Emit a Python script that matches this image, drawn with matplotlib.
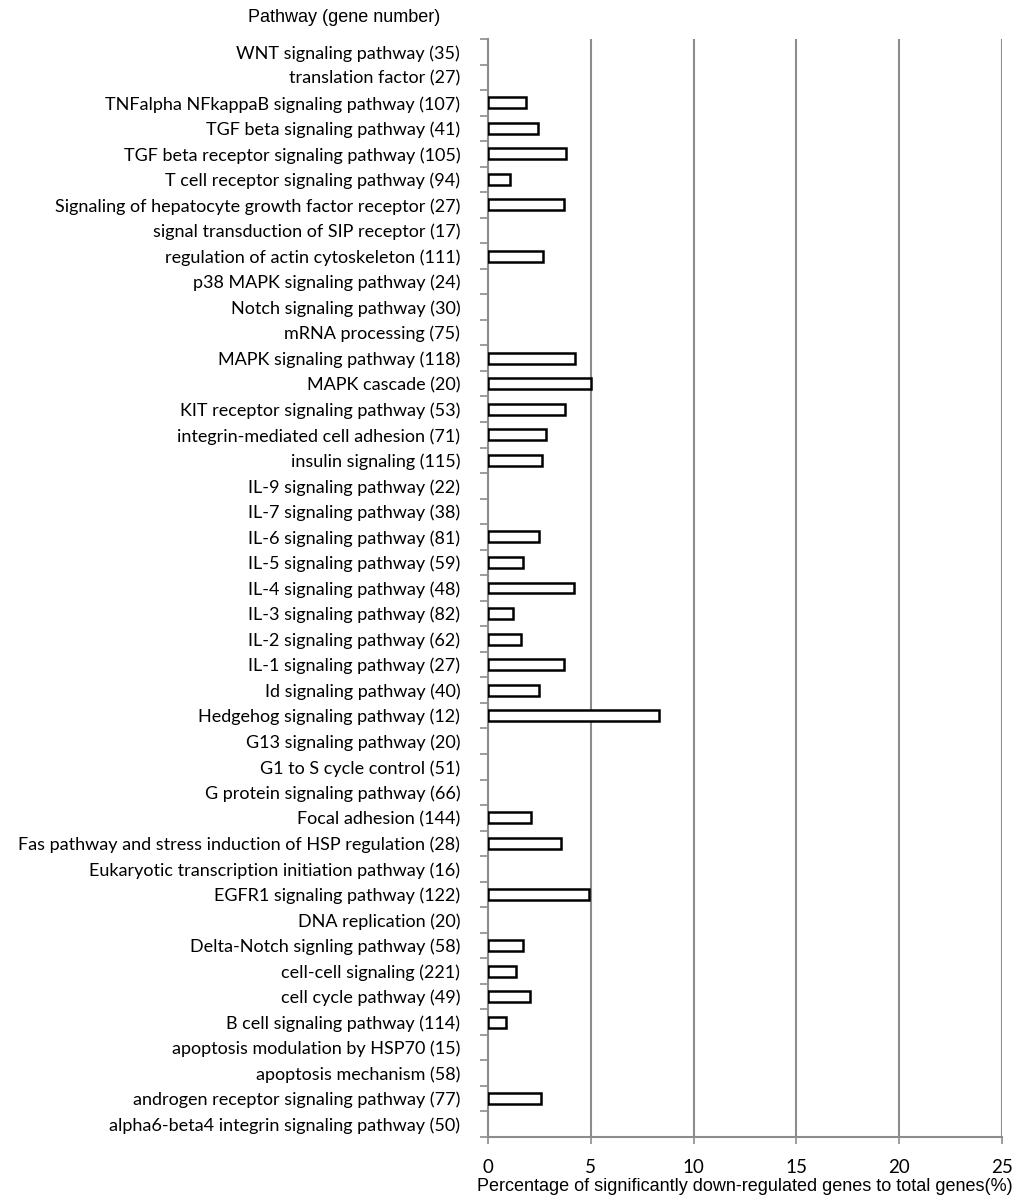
import numpy as np
import matplotlib.pyplot as plt

# Pathways listed top to bottom, with gene counts
pathways = ['WNT signaling pathway (35)', 'translation factor (27)',
	'TNFalpha NFkappaB signaling pathway (107)', 'TGF beta signaling pathway (41)',
	'TGF beta receptor signaling pathway (105)', 'T cell receptor signaling pathway (94)',
	'Signaling of hepatocyte growth factor receptor (27)', 'signal transduction of SIP receptor (17)',
	'regulation of actin cytoskeleton (111)', 'p38 MAPK signaling pathway (24)',
	'Notch signaling pathway (30)', 'mRNA processing (75)', 'MAPK signaling pathway (118)',
	'MAPK cascade (20)', 'KIT receptor signaling pathway (53)',
	'integrin-mediated cell adhesion (71)', 'insulin signaling (115)',
	'IL-9 signaling pathway (22)', 'IL-7 signaling pathway (38)', 'IL-6 signaling pathway (81)',
	'IL-5 signaling pathway (59)', 'IL-4 signaling pathway (48)', 'IL-3 signaling pathway (82)',
	'IL-2 signaling pathway (62)', 'IL-1 signaling pathway (27)', 'Id signaling pathway (40)',
	'Hedgehog signaling pathway (12)', 'G13 signaling pathway (20)', 'G1 to S cycle control (51)',
	'G protein signaling pathway (66)', 'Focal adhesion (144)',
	'Fas pathway and stress induction of HSP regulation (28)',
	'Eukaryotic transcription initiation pathway (16)', 'EGFR1 signaling pathway (122)',
	'DNA replication (20)', 'Delta-Notch signling pathway (58)', 'cell-cell signaling (221)',
	'cell cycle pathway (49)', 'B cell signaling pathway (114)',
	'apoptosis modulation by HSP70 (15)', 'apoptosis mechanism (58)',
	'androgen receptor signaling pathway (77)', 'alpha6-beta4 integrin signaling pathway (50)']

# Percentage of down-regulated genes (%)
percent_down = [0, 0, 1.87, 2.44, 3.81, 1.06, 3.70, 0, 2.70, 0,
	0, 0, 4.24, 5.00, 3.77, 2.82, 2.61, 0, 0, 2.47,
	1.69, 4.17, 1.22, 1.61, 3.70, 2.50, 8.33, 0, 0, 0,
	2.08, 3.57, 0, 4.92, 0, 1.72, 1.36, 2.04, 0.88, 0,
	0, 2.60, 0]

x_ticks = [0, 5, 10, 15, 20, 25]

grey = '#8c8c8c'
label_font = 'Lato'
axis_font = 'Liberation Sans'

fig = plt.figure(figsize=(10.13, 12), dpi=100)
ax = fig.add_axes([0.4817, 0.0525, 0.5073, 0.915])

y = np.arange(len(pathways))
### Empty pathways get no outline
edge_colours = ['black' if v > 0 else 'none' for v in percent_down]
ax.barh(y, percent_down, height=0.43, color='white', edgecolor=edge_colours, linewidth=1.8, zorder=3)

ax.set_ylim(len(pathways)-0.5, -0.5)
ax.set_xlim(0, 25)

### Vertical grid lines
ax.set_xticks(x_ticks)
ax.xaxis.grid(True, color=grey, linewidth=1.5, zorder=0)
ax.set_xticklabels([str(t) for t in x_ticks], family=label_font, fontsize=13.5)
ax.tick_params(axis='x', length=5, width=1.2, color=grey, pad=11)

### Category labels between boundary ticks
ax.set_yticks(y)
ax.set_yticklabels(pathways, family=label_font, fontsize=13)
ax.set_yticks(np.arange(len(pathways)+1)-0.5, minor=True)
ax.tick_params(axis='y', which='major', length=0, pad=20)
ax.tick_params(axis='y', which='minor', length=6, width=1.2, color=grey)

for side in ['top', 'right']:
	ax.spines[side].set_visible(False)
for side in ['left', 'bottom']:
	ax.spines[side].set_color(grey)
	ax.spines[side].set_linewidth(1.5)

ax.set_xlabel('Percentage of significantly down-regulated genes to total genes(%)',
	family=axis_font, fontsize=13, labelpad=1)
fig.text(0.34, 0.985, 'Pathway (gene number)', family=axis_font, fontsize=13,
	ha='center', va='center')

fig.savefig('out.png', dpi=100)
plt.close()
